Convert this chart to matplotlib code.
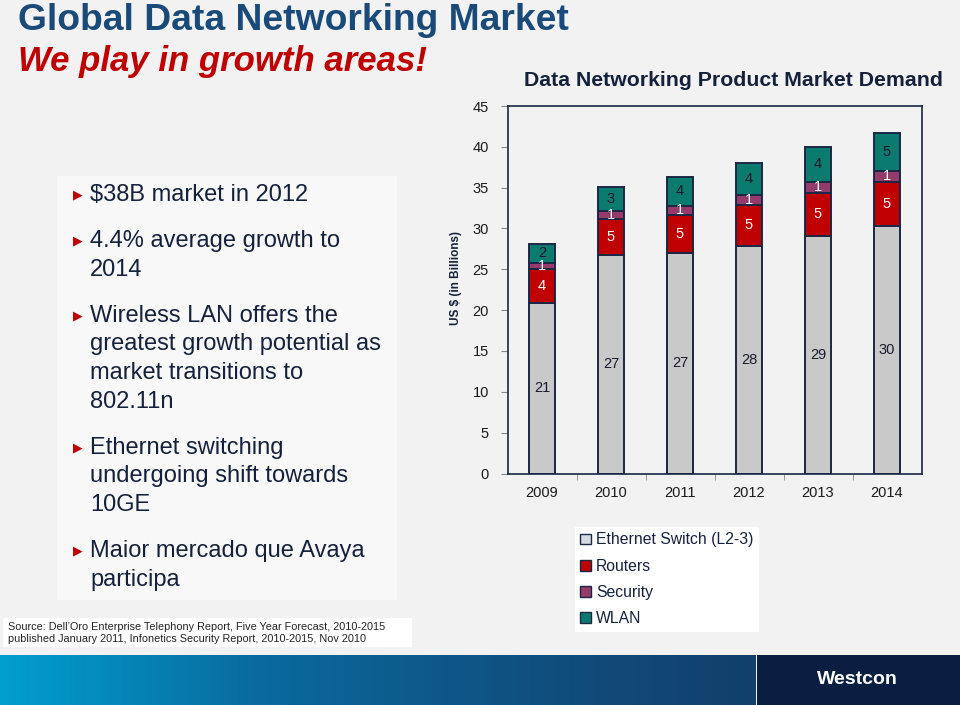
import numpy as np
import matplotlib
matplotlib.use("Agg")
from matplotlib import pyplot as plt
from matplotlib.patches import Rectangle, Patch
from matplotlib.colors import LinearSegmentedColormap

plt.rcParams['font.family'] = ['Liberation Sans', 'DejaVu Sans']

# data (US $ billions)
years = ['2009', '2010', '2011', '2012', '2013', '2014']
ethernet = [20.9, 26.8, 27.0, 27.9, 29.1, 30.3]
routers = [4.1, 4.4, 4.7, 4.95, 5.3, 5.4]
security = [0.8, 1.0, 1.1, 1.3, 1.3, 1.4]
wlan = [2.3, 2.9, 3.5, 3.9, 4.3, 4.6]
# labels as printed on the bars
ethernet_lbl = ['21', '27', '27', '28', '29', '30']
routers_lbl = ['4', '5', '5', '5', '5', '5']
security_lbl = ['1', '1', '1', '1', '1', '1']
wlan_lbl = ['2', '3', '4', '4', '4', '5']

series_names = ['Ethernet Switch (L2-3)', 'Routers', 'Security', 'WLAN']
bullets = [
    ['$38B market in 2012'],
    ['4.4% average growth to', '2014'],
    ['Wireless LAN offers the', 'greatest growth potential as', 'market transitions to', '802.11n'],
    ['Ethernet switching', 'undergoing shift towards', '10GE'],
    ['Maior mercado que Avaya', 'participa'],
]
source = ("Source: Dell\u2019Oro Enterprise Telephony Report, Five Year Forecast, 2010-2015\n"
          "published January 2011, Infonetics Security Report, 2010-2015, Nov 2010")

W, H = 960, 705
navy = '#1b2744'
c_eth, c_rout, c_sec, c_wlan = '#c9c9c9', '#c00000', '#953b6c', '#0b7b70'

fig = plt.figure(figsize=(9.6, 7.05), dpi=100, facecolor='#f2f2f2')

def fx(x):
    return x / W

def fy(y):
    return 1 - y / H

# left text panel
fig.add_artist(Rectangle((fx(57), fy(600)), fx(340), (600 - 176) / H,
                         transform=fig.transFigure, facecolor='#f8f8f8', edgecolor='none'))
# source box
fig.add_artist(Rectangle((fx(3), fy(647)), fx(409), 29 / H,
                         transform=fig.transFigure, facecolor='white', edgecolor='none'))

# bottom band
band = fig.add_axes([0, 0, fx(756), 50 / H])
cmap = LinearSegmentedColormap.from_list('band', ['#019fcf', '#0a6b9f', '#0f5282', '#133f6b'])
band.imshow(np.linspace(0, 1, 256)[None, :], aspect='auto', cmap=cmap, extent=[0, 1, 0, 1])
band.axis('off')
fig.add_artist(Rectangle((fx(757), 0), fx(203), 50 / H, transform=fig.transFigure,
                         facecolor='#0a1e42', edgecolor='none'))
fig.text(fx(857), fy(679), 'Westcon', color='white', fontsize=14, fontweight='bold',
         ha='center', va='center')

# titles
fig.text(fx(18), fy(20), 'Global Data Networking Market', color='#1a4a7a', fontsize=26.8,
         fontweight='bold', va='center')
fig.text(fx(18), fy(62), 'We play in growth areas!', color='#c00000', fontsize=25,
         fontweight='bold', style='italic', va='center')
fig.text(fx(734), fy(81), 'Data Networking Product Market Demand', color='#14213d',
         fontsize=15.3, fontweight='bold', ha='center', va='center')

# bullets
y = 195
for para in bullets:
    fig.text(fx(78), fy(y), '\u25B6', color='#c00000', fontsize=9, ha='center', va='center',
             family=['DejaVu Sans'])
    for line in para:
        fig.text(fx(90), fy(y), line, color='#14213d', fontsize=17, va='center')
        y += 28.6
    y += 17.5

fig.text(fx(8), fy(633), source, color='#222222', fontsize=7.8, va='center', linespacing=1.25)

# chart
ax = fig.add_axes([fx(507.5), fy(473.5), fx(414), (473.5 - 106) / H])
ax.set_facecolor('#f2f2f2')
x = np.arange(len(years))
bw = 0.39
kw = dict(width=bw, edgecolor=navy, linewidth=1.4)
b1 = ax.bar(x, ethernet, color=c_eth, **kw)
bot = np.array(ethernet)
b2 = ax.bar(x, routers, bottom=bot, color=c_rout, **kw)
bot = bot + np.array(routers)
b3 = ax.bar(x, security, bottom=bot, color=c_sec, **kw)
bot = bot + np.array(security)
b4 = ax.bar(x, wlan, bottom=bot, color=c_wlan, **kw)

ax.bar_label(b1, labels=ethernet_lbl, label_type='center', fontsize=10.5, color='#1a1a2e')
ax.bar_label(b2, labels=routers_lbl, label_type='center', fontsize=10.5, color='white')
ax.bar_label(b3, labels=security_lbl, label_type='center', fontsize=10.5, color='white')
ax.bar_label(b4, labels=wlan_lbl, label_type='center', fontsize=10.5, color='#1a1a2e')

ax.set_xlim(-0.5, 5.5)
ax.set_ylim(0, 45)
ax.set_yticks(range(0, 46, 5))
ax.set_xticks(x)
ax.set_xticklabels(years)
ax.set_xticks(np.arange(0.5, 5.5, 1), minor=True)
ax.tick_params(axis='x', which='major', length=0, pad=9, labelsize=10.5, labelcolor='#1a1a1a')
ax.tick_params(axis='x', which='minor', length=4, color='#888888')
ax.tick_params(axis='y', length=5, color='#888888', labelsize=10.5, labelcolor='#1a1a1a', pad=8.5)
for s in ax.spines.values():
    s.set_color(navy)
    s.set_linewidth(1.2)
fig.text(fx(456), fy(278), 'US $ (in Billions)', rotation=90, fontsize=8.5, fontweight='bold',
         color='#14213d', ha='center', va='center')

handles = [Patch(facecolor=c, edgecolor=navy, linewidth=1)
           for c in ['#d4dbe4', c_rout, c_sec, c_wlan]]
leg = ax.legend(handles, series_names, loc='upper left', bbox_to_anchor=(fx(575), fy(527)),
                bbox_transform=fig.transFigure, frameon=True, fancybox=False,
                facecolor='white', edgecolor='none', framealpha=1, fontsize=11.3,
                handlelength=0.7, handleheight=0.7, handletextpad=0.3, labelspacing=0.72,
                borderpad=0.35, borderaxespad=0)
for t in leg.get_texts():
    t.set_color('#14213d')

fig.savefig('out.png', dpi=100, facecolor=fig.get_facecolor())
